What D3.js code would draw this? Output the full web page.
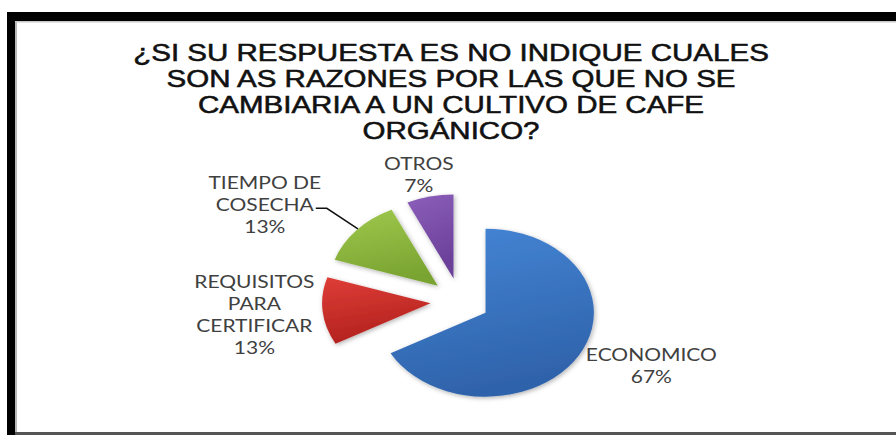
<!DOCTYPE html>
<html>
<head>
<meta charset="utf-8">
<script src="https://cdn.jsdelivr.net/npm/d3@7"></script>
<style>
  html, body { margin: 0; padding: 0; background: #fff; overflow: hidden; }
  svg { display: block; }
</style>
</head>
<body>
<svg id="chart" width="896" height="435"></svg>
<script>
// Survey answers: reasons for not switching to organic coffee
const categories = ["ECONOMICO", "REQUISITOS PARA CERTIFICAR", "TIEMPO DE COSECHA", "OTROS"];
const percents = [67, 13, 13, 7];
const labelLines = [["ECONOMICO"], ["REQUISITOS", "PARA", "CERTIFICAR"], ["TIEMPO DE", "COSECHA"], ["OTROS"]];
const titleLines = [
  "¿SI SU RESPUESTA ES NO INDIQUE CUALES",
  "SON AS RAZONES POR LAS QUE NO SE",
  "CAMBIARIA A UN CULTIVO DE CAFE",
  "ORGÁNICO?"
];

// Slice fills (top / bottom of the vertical shading)
const sliceColors = [
  ["#4586d6", "#2f63ab"],
  ["#de3d37", "#b3221e"],
  ["#9ec84c", "#7aa431"],
  ["#8c5fba", "#6a3f98"]
];

const W = 896, H = 435;
const svg = d3.select("#chart");

// Frame: thick black edge on the left and top, thin grey rule along the bottom
svg.append("rect").attr("x", 0).attr("y", 0).attr("width", W).attr("height", H).attr("fill", "#fff");
svg.append("rect").attr("x", 7).attr("y", 12).attr("width", W - 7).attr("height", H - 12).attr("fill", "#000");
svg.append("rect").attr("x", 15).attr("y", 21).attr("width", W - 15).attr("height", 411).attr("fill", "#fff");
svg.append("rect").attr("x", 15).attr("y", 21).attr("width", 2).attr("height", 411).attr("fill", "#b8b8b8");
svg.append("rect").attr("x", 15).attr("y", 21).attr("width", W - 15).attr("height", 1.5).attr("fill", "#c8c8c8");
svg.append("rect").attr("x", 15).attr("y", 432).attr("width", W - 15).attr("height", 3).attr("fill", "#555");

const defs = svg.append("defs");
sliceColors.forEach((c, i) => {
  const g = defs.append("linearGradient").attr("id", "grad" + i)
    .attr("x1", 0).attr("y1", 0).attr("x2", 0.25).attr("y2", 1);
  g.append("stop").attr("offset", "0%").attr("stop-color", c[0]);
  g.append("stop").attr("offset", "100%").attr("stop-color", c[1]);
});
const shadow = defs.append("filter").attr("id", "shadow")
  .attr("x", "-20%").attr("y", "-20%").attr("width", "140%").attr("height", "140%");
shadow.append("feDropShadow").attr("dx", 1).attr("dy", 1.5).attr("stdDeviation", 2.2)
  .attr("flood-color", "#000").attr("flood-opacity", 0.3);

// Title
const titleX = 451, titleY0 = 61, titleStep = 26, titleStretch = 1.23;
const title = svg.append("g").attr("transform", `translate(${titleX},0) scale(${titleStretch},1)`);
title.selectAll("text").data(titleLines).join("text")
  .attr("x", 0)
  .attr("y", (d, i) => titleY0 + i * titleStep)
  .attr("text-anchor", "middle")
  .attr("font-family", "'Liberation Sans', Arial, sans-serif")
  .attr("font-size", 24)
  .attr("fill", "#111")
  .attr("stroke", "#111")
  .attr("stroke-width", 0.55)
  .text(d => d);

// Pie (drawn as an ellipse: the plot is wider than it is tall)
const cx = 460, cy = 301, radius = 84, xStretch = 1.29, explode = 23;
const pie = d3.pie().sort(null).value(d => d)(percents);
const arc = d3.arc().innerRadius(0).outerRadius(radius);
const mid = d => (d.startAngle + d.endAngle) / 2;

const pieG = svg.append("g").attr("transform", `translate(${cx},${cy}) scale(${xStretch},1)`);
pieG.selectAll("path").data(pie).join("path")
  .attr("transform", d => `translate(${explode * Math.sin(mid(d))},${-explode * Math.cos(mid(d))})`)
  .attr("d", arc)
  .attr("fill", (d, i) => `url(#grad${i})`)
  .attr("filter", "url(#shadow)");

// Data labels: placed around the pie by angle offset (deg) and radius
const labelPlacement = [
  { shift: -6.9, r: 162 },
  { shift: 0.4, r: 160 },
  { shift: -9.1, r: 179 },
  { shift: -1.6, r: 130 }
];
const lineH = 22, capH = 12, labelStretch = 1.25;
const toXY = (a, r) => [cx + xStretch * r * Math.sin(a), cy - r * Math.cos(a)];

const labels = svg.append("g");
pie.forEach((d, i) => {
  const p = labelPlacement[i];
  const a = mid(d) + p.shift * Math.PI / 180;
  const [lx, ly] = toXY(a, p.r);
  const lines = labelLines[i].concat([percents[i] + "%"]);
  const b0 = ly - ((lines.length - 1) * lineH - capH) / 2;
  const g = labels.append("g").attr("transform", `translate(${lx},0) scale(${labelStretch},1)`);
  g.selectAll("text").data(lines).join("text")
    .attr("x", 0)
    .attr("y", (t, j) => b0 + j * lineH)
    .attr("text-anchor", "middle")
    .attr("font-family", "Lato, 'Open Sans', sans-serif")
    .attr("font-size", 16.8)
    .attr("fill", "#404040")
    .text(t => t);

  // Leader line from the harvest-time slice to its label
  if (i === 2) {
    const t = g.selectAll("text").filter((t, j) => j === 1).node();
    const half = t.getComputedTextLength() / 2 * labelStretch;
    const y = b0 + lineH - 3;
    const x0 = lx + half + 2;
    const e = [explode * xStretch * Math.sin(mid(d)), -explode * Math.cos(mid(d))];
    const [ox, oy] = toXY(mid(d) + 0.02, radius);
    labels.append("path")
      .attr("d", d3.line()([[x0, y], [x0 + 11, y], [ox + e[0], oy + e[1]]]))
      .attr("fill", "none")
      .attr("stroke", "#111")
      .attr("stroke-width", 1.5);
  }
});
</script>
</body>
</html>
